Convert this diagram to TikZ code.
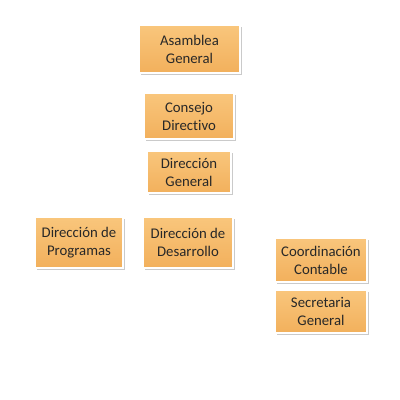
\documentclass[tikz,border=0pt]{standalone}
\usepackage{fontspec}
\setmainfont{Carlito}[Ligatures=NoCommon]
\usetikzlibrary{shadows}

\definecolor{boxtop}{RGB}{249,198,124}
\definecolor{boxbot}{RGB}{242,176,92}
\definecolor{boxtext}{RGB}{40,40,40}

\tikzset{
  orgbox/.style={draw=white, line width=1.4pt, top color=boxtop, bottom color=boxbot,
    text=boxtext, align=center, inner sep=0pt,
    font=\fontsize{10.5}{12.8}\selectfont,
    drop shadow={shadow xshift=1.2pt, shadow yshift=-1.4pt, opacity=0.35, fill=black!60}}
}

\begin{document}
\begin{tikzpicture}[x=0.025cm,y=-0.025cm]
        \useasboundingbox (0,0) rectangle (400,400);

        % Top of the chart
        \node[orgbox, minimum width=101*0.025cm, minimum height=48*0.025cm] (asamblea) at (189.5,49) {Asamblea\\General};
        \node[orgbox, minimum width=90*0.025cm, minimum height=46*0.025cm] (consejo) at (189,116) {Consejo\\Directivo};
        \node[orgbox, minimum width=84*0.025cm, minimum height=42*0.025cm] (dirgeneral) at (189,172) {Dirección\\General};

        % Second level
        \node[orgbox, minimum width=88*0.025cm, minimum height=51*0.025cm] (programas) at (79,242.5) {Dirección de\\Programas};
        \node[orgbox, minimum width=90*0.025cm, minimum height=51*0.025cm] (desarrollo) at (188,242.5) {Dirección de\\Desarrollo};

        % Right column
        \node[orgbox, minimum width=92*0.025cm, minimum height=44*0.025cm] (contable) at (321,260) {Coordinación\\Contable};
        \node[orgbox, minimum width=92*0.025cm, minimum height=43*0.025cm] (secretaria) at (321,311.5) {Secretaria\\General};

    \end{tikzpicture}
\end{document}
